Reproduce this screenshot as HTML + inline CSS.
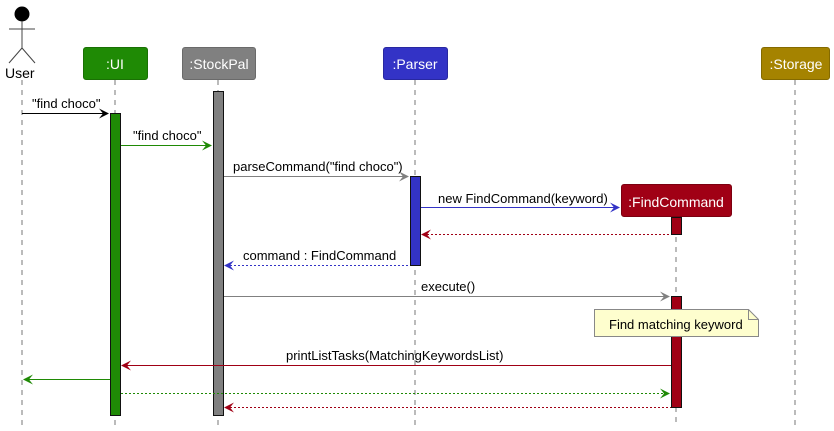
<!DOCTYPE html>
<html><head><meta charset="utf-8"><style>
html,body{margin:0;padding:0;background:#fff;width:834px;height:431px;overflow:hidden}
svg{display:block}
text{font-family:"Liberation Sans",sans-serif;font-size:13px;fill:#000}
.h{font-size:14px;fill:#fff}
.ll{stroke:#777;stroke-width:1;stroke-dasharray:5,5}
</style></head><body>
<svg width="834" height="431" viewBox="0 0 834 431" xmlns="http://www.w3.org/2000/svg">
<!-- lifelines -->
<line class="ll" x1="22" y1="80" x2="22" y2="425"/>
<line class="ll" x1="115" y1="80" x2="115" y2="425"/>
<line class="ll" x1="218" y1="80" x2="218" y2="425"/>
<line class="ll" x1="415" y1="80" x2="415" y2="425"/>
<line class="ll" x1="676" y1="217" x2="676" y2="425"/>
<line class="ll" x1="795" y1="80" x2="795" y2="425"/>
<!-- actor -->
<circle cx="22" cy="14" r="7.5" fill="#000"/>
<line x1="22" y1="21" x2="22" y2="48" stroke="#444"/>
<line x1="9" y1="29" x2="35" y2="29" stroke="#444"/>
<line x1="22" y1="48" x2="9" y2="63" stroke="#444"/>
<line x1="22" y1="48" x2="35" y2="63" stroke="#444"/>
<text x="5" y="78" style="font-size:14px">User</text>
<!-- heads -->
<rect x="83.5" y="47.5" width="64" height="32" rx="2.5" fill="#1f8a05" stroke="#1a7004"/>
<text class="h" x="115" y="69" text-anchor="middle">:UI</text>
<rect x="182.5" y="47.5" width="73" height="32" rx="2.5" fill="#808080" stroke="#6a6a6a"/>
<text class="h" x="219" y="69" text-anchor="middle">:StockPal</text>
<rect x="383.5" y="47.5" width="64" height="32" rx="2.5" fill="#3333c6" stroke="#2828a0"/>
<text class="h" x="415" y="69" text-anchor="middle">:Parser</text>
<rect x="761.5" y="47.5" width="68" height="32" rx="2.5" fill="#a58300" stroke="#846a00"/>
<text class="h" x="796" y="69" text-anchor="middle">:Storage</text>
<rect x="621.5" y="184.5" width="110" height="32" rx="2.5" fill="#a00015" stroke="#7c0010"/>
<text class="h" x="676" y="207" text-anchor="middle">:FindCommand</text>
<!-- activations -->
<rect x="110.5" y="113.5" width="10" height="302" fill="#1f8a05" stroke="#111"/>
<rect x="213.5" y="91.5" width="10" height="324" fill="#808080" stroke="#111"/>
<rect x="410.5" y="176.5" width="10" height="89" fill="#3333c6" stroke="#111"/>
<rect x="671.5" y="217.5" width="10" height="17" fill="#a00015" stroke="#111"/>
<rect x="671.5" y="296.5" width="10" height="111" fill="#a00015" stroke="#111"/>
<!-- messages -->
<line x1="22" y1="113.5" x2="108" y2="113.5" stroke="#000"/>
<polygon points="109,113.5 99,108.5 103,113.5 99,118.5" fill="#000"/>
<text x="32" y="108">"find choco"</text>

<line x1="121" y1="145.5" x2="211" y2="145.5" stroke="#1f8a05"/>
<polygon points="212,145.5 202,140.5 206,145.5 202,150.5" fill="#1f8a05"/>
<text x="133" y="140">"find choco"</text>

<line x1="224" y1="176.5" x2="408" y2="176.5" stroke="#808080"/>
<polygon points="409,176.5 399,171.5 403,176.5 399,181.5" fill="#808080"/>
<text x="233" y="171">parseCommand("find choco")</text>

<line x1="421" y1="207.5" x2="619" y2="207.5" stroke="#3333c6"/>
<polygon points="620,207.5 610,202.5 614,207.5 610,212.5" fill="#3333c6"/>
<text x="438" y="203">new FindCommand(keyword)</text>

<line x1="423" y1="234.5" x2="671" y2="234.5" stroke="#a00015" stroke-dasharray="2,2"/>
<polygon points="421,234.5 431,229.5 427,234.5 431,239.5" fill="#a00015"/>

<line x1="226" y1="265.5" x2="410" y2="265.5" stroke="#3333c6" stroke-dasharray="2,2"/>
<polygon points="224,265.5 234,260.5 230,265.5 234,270.5" fill="#3333c6"/>
<text x="243" y="260">command : FindCommand</text>

<line x1="224" y1="296.5" x2="669" y2="296.5" stroke="#808080"/>
<polygon points="670,296.5 660,291.5 664,296.5 660,301.5" fill="#808080"/>
<text x="421" y="291">execute()</text>

<!-- note -->
<path d="M594.5,309.5 H748.5 L758.5,319.5 V336.5 H594.5 Z" fill="#fefece" stroke="#888"/>
<path d="M748.5,309.5 V319.5 H758.5" fill="none" stroke="#888"/>
<text x="609" y="329">Find matching keyword</text>

<line x1="123" y1="365.5" x2="671" y2="365.5" stroke="#a00015"/>
<polygon points="121,365.5 131,360.5 127,365.5 131,370.5" fill="#a00015"/>
<text x="286" y="360">printListTasks(MatchingKeywordsList)</text>

<line x1="25" y1="379.5" x2="110" y2="379.5" stroke="#1f8a05"/>
<polygon points="23,379.5 33,374.5 29,379.5 33,384.5" fill="#1f8a05"/>

<line x1="121" y1="393.5" x2="669" y2="393.5" stroke="#1f8a05" stroke-dasharray="2,2"/>
<polygon points="670,393.5 660,388.5 664,393.5 660,398.5" fill="#1f8a05"/>

<line x1="226" y1="407.5" x2="671" y2="407.5" stroke="#a00015" stroke-dasharray="2,2"/>
<polygon points="224,407.5 234,402.5 230,407.5 234,412.5" fill="#a00015"/>
</svg>
</body></html>
